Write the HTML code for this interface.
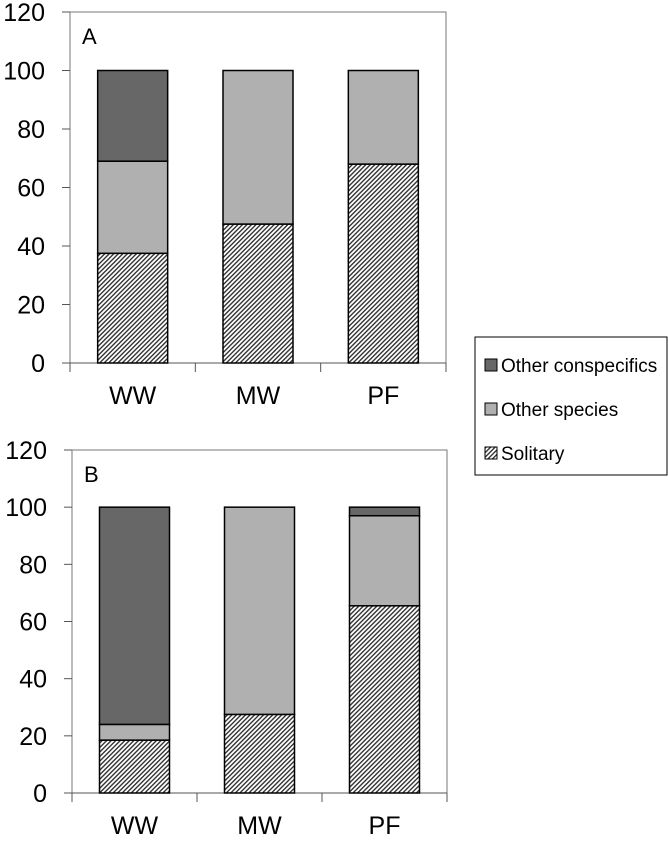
<!DOCTYPE html>
<html><head><meta charset="utf-8"><style>
body{margin:0;background:#fff;}
svg text{font-family:"Liberation Sans",sans-serif;fill:#000;}
</style></head><body>
<svg width="668" height="841" viewBox="0 0 668 841" xmlns="http://www.w3.org/2000/svg">
<defs>
<pattern id="hatch" patternUnits="userSpaceOnUse" width="3.2" height="3.2" patternTransform="rotate(45)">
<rect width="3.2" height="3.2" fill="#fff"/><rect width="1.4" height="3.2" fill="#333"/>
</pattern>
</defs>
<g id="panels"></g>
<g>
<rect x="475" y="337" width="192" height="138" fill="#fff" stroke="#000" stroke-width="1"/>
<g><rect x="485" y="359" width="12" height="12" fill="#676767" stroke="#000"/><text x="501" y="372" font-size="19">Other conspecifics</text></g>
<g><rect x="485" y="403" width="12" height="12" fill="#b0b0b0" stroke="#000"/><text x="501" y="416" font-size="19">Other species</text></g>
<g><rect x="485" y="447" width="12" height="12" fill="url(#hatch)" stroke="#000"/><text x="501" y="460" font-size="19">Solitary</text></g>
</g>
</svg>
<script>
const categories=["WW","MW","PF"];
const yTicks=[0,20,40,60,80,100,120];
const solitaryA=[37.5,47.5,68];
const otherSpeciesA=[31.5,52.5,32];
const conspecificsA=[31,0,0];
const solitaryB=[18.5,27.5,65.5];
const otherSpeciesB=[5.5,72.5,31.5];
const conspecificsB=[76,0,3];
const NS="http://www.w3.org/2000/svg";
const root=document.getElementById('panels');
function mk(tag,attrs,parent){const e=document.createElementNS(NS,tag);for(const k in attrs)e.setAttribute(k,attrs[k]);parent.appendChild(e);return e;}
function panel(label,x0,x1,yTop,yZero,series){
  const g=mk('g',{},root);
  
  
  const y=v=>yZero-(v/120)*(yZero-yTop);
  const bw=(x1-x0)/categories.length;
  const frame=mk('rect',{x:x0,y:yTop,width:x1-x0,height:yZero-yTop,fill:'none',stroke:'#777','stroke-width':1},g);
  
  
  yTicks.forEach(t=>{
    const tk=mk('line',{x1:x0-8,x2:x0,y1:y(t),y2:y(t),stroke:'#555'},g);
    
    
    const tx=mk('text',{x:x0-25,y:y(t)+9,'font-size':25,'text-anchor':'end'},g);
    
    
    tx.textContent=t;
  });
  const xa=mk('line',{x1:x0,x2:x1,y1:yZero,y2:yZero,stroke:'#555'},g);
  
  
  for(let i=0;i<=categories.length;i++){
    const tk=mk('line',{x1:x0+i*bw,x2:x0+i*bw,y1:yZero,y2:yZero+9,stroke:'#555'},g);
    
    
  }
  categories.forEach((c,i)=>{
    const cx=x0+bw*(i+0.5), w=70;
    let base=0;
    series.forEach(s=>{
      const v=s.vals[i]; if(v<=0)return;
      const r=mk('rect',{x:cx-w/2,y:y(base+v),width:w,height:y(base)-y(base+v),fill:s.fill,stroke:'#000','stroke-width':1.5},g);
      
      
      base+=v;
    });
    const t=mk('text',{x:cx,y:yZero+41,'font-size':25,'text-anchor':'middle'},g);
    
    
    t.textContent=c;
  });
  const pl=mk('text',{x:x0+12,y:yTop+32,'font-size':22},g);
  
  
  pl.textContent=label;
}
panel('A',70,446,12,363,[{name:'solitary',vals:solitaryA,fill:'url(#hatch)'},{name:'other-species',vals:otherSpeciesA,fill:'#b0b0b0'},{name:'conspecifics',vals:conspecificsA,fill:'#676767'}]);
panel('B',72,447,450,793,[{name:'solitary',vals:solitaryB,fill:'url(#hatch)'},{name:'other-species',vals:otherSpeciesB,fill:'#b0b0b0'},{name:'conspecifics',vals:conspecificsB,fill:'#676767'}]);
</script>
</body></html>
